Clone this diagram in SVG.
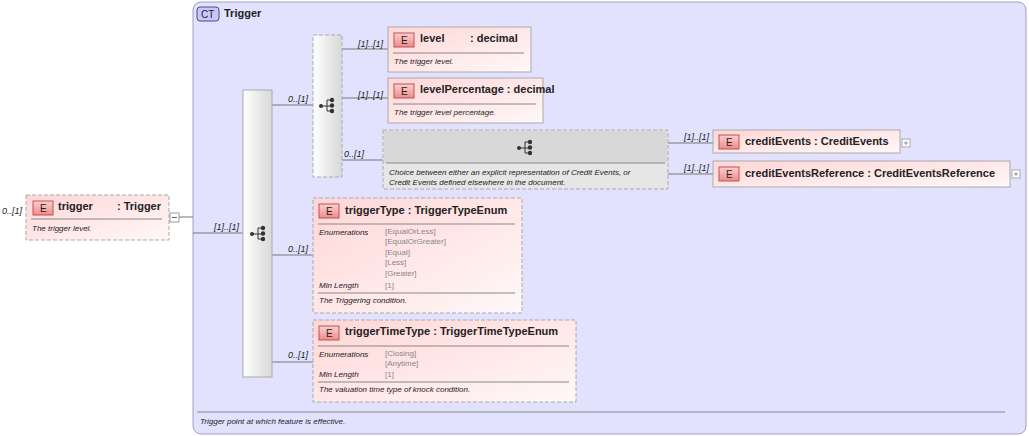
<svg xmlns="http://www.w3.org/2000/svg" width="1029" height="436" viewBox="0 0 1029 436">
<defs>
<linearGradient id="eg" x1="0" y1="0" x2="1" y2="1"><stop offset="0" stop-color="#ffd6d6"/><stop offset="1" stop-color="#fff8f8"/></linearGradient>
<linearGradient id="bg" x1="0" y1="0" x2="1" y2="0"><stop offset="0" stop-color="#ffffff"/><stop offset="1" stop-color="#d8d8d8"/></linearGradient>
<linearGradient id="badge" x1="0" y1="0" x2="0" y2="1"><stop offset="0" stop-color="#fbd0d0"/><stop offset="1" stop-color="#f08a8a"/></linearGradient>
<g id="ic"><circle cx="-6" cy="1" r="2"/><path d="M-6 1H0M0-5V6H4M0 1H4M0-5H4" stroke="#333" fill="none"/><circle cx="5" cy="-5" r="2.2"/><circle cx="5" cy="0.5" r="2.2"/><circle cx="5" cy="6" r="2.2"/></g>
</defs>
<style>
text{font-family:"Liberation Sans",Arial,sans-serif;fill:#222}
.t{font-size:11px;font-weight:bold}
.d{font-size:8px;font-style:italic}
.m{font-size:9px;font-style:italic}
.k{font-size:8px;font-style:italic}
.v{font-size:8px;fill:#888}
.b{font-size:10px}
.el{fill:url(#eg);stroke:#aaa}
.dash{stroke-dasharray:4 2}
.bd{fill:url(#badge);stroke:#b55}
.sep{stroke:#888;stroke-width:1}
.ln{stroke:#777;fill:none}
</style>
<g id="ct">
<rect x="193" y="2" width="833" height="432" rx="8" fill="#e2e2ff" stroke="#a0a0c0"/>
<rect x="197" y="7" width="22" height="14" rx="3" fill="#c8c8f8" stroke="#4a4a8a"/>
<text x="201" y="18" class="b" fill="#333">CT</text>
<text x="224" y="17" class="t">Trigger</text>
<line x1="197" y1="412" x2="1005" y2="412" class="sep"/>
<text x="200" y="424" class="d">Trigger point at which feature is effective.</text>
</g>
<g id="connectors" class="ln">
<line x1="179" y1="217" x2="193" y2="217"/>
<line x1="193" y1="233" x2="243" y2="233"/>
<line x1="272" y1="105" x2="313" y2="105"/>
<line x1="272" y1="255" x2="313" y2="255"/>
<line x1="272" y1="362" x2="313" y2="362"/>
<line x1="342" y1="49" x2="388" y2="49"/>
<line x1="342" y1="98" x2="388" y2="98"/>
<line x1="342" y1="160" x2="383" y2="160"/>
<line x1="668" y1="143" x2="713" y2="143"/>
<line x1="668" y1="174" x2="713" y2="174"/>
</g>
<g id="labels" class="m">
<text x="2" y="214" class="m">0..[1]</text>
<text x="214" y="230" class="m">[1]..[1]</text>
<text x="288" y="102" class="m">0..[1]</text>
<text x="288" y="252" class="m">0..[1]</text>
<text x="288" y="358" class="m">0..[1]</text>
<text x="358" y="47" class="m">[1]..[1]</text>
<text x="358" y="98" class="m">[1]..[1]</text>
<text x="344" y="157" class="m">0..[1]</text>
<text x="684" y="140" class="m">[1]..[1]</text>
<text x="684" y="171" class="m">[1]..[1]</text>
</g>
<g id="trigger">
<rect x="26" y="195" width="143" height="45" class="el dash"/>
<rect x="33" y="201" width="20" height="14" class="bd"/><text x="40" y="212" class="b">E</text>
<text x="58" y="210" class="t">trigger</text><text x="117" y="210" class="t">: Trigger</text>
<line x1="31" y1="219" x2="162" y2="219" class="sep"/>
<text x="32" y="231" class="d">The trigger level.</text>
<rect x="170" y="213" width="9" height="9" fill="#fff" stroke="#999"/><line x1="172" y1="217.5" x2="177" y2="217.5" stroke="#666"/>
</g>
<g id="seq">
<rect x="243" y="90" width="29" height="287" fill="url(#bg)" stroke="#aaa"/>
<use href="#ic" x="258" y="233" fill="#333"/>
</g>
<g id="choice">
<rect x="313" y="35" width="29" height="142" fill="url(#bg)" stroke="#aaa" class="dash"/>
<use href="#ic" x="327" y="105" fill="#333"/>
</g>
<g id="level">
<rect x="388" y="27" width="143" height="45" class="el"/>
<rect x="394" y="33" width="20" height="14" class="bd"/><text x="401" y="44" class="b">E</text>
<text x="420" y="42" class="t">level</text><text x="470" y="42" class="t">: decimal</text>
<line x1="393" y1="53" x2="524" y2="53" class="sep"/>
<text x="394" y="64" class="d">The trigger level.</text>
</g>
<g id="levelPercentage">
<rect x="388" y="78" width="155" height="45" class="el"/>
<rect x="394" y="84" width="20" height="14" class="bd"/><text x="401" y="95" class="b">E</text>
<text x="420" y="93" class="t">levelPercentage : decimal</text>
<line x1="393" y1="104" x2="536" y2="104" class="sep"/>
<text x="394" y="115" class="d">The trigger level percentage.</text>
</g>
<g id="innerChoice">
<rect x="383" y="130" width="285" height="59" fill="#e6e6e6" stroke="#aaa" class="dash"/>
<rect x="384" y="131" width="283" height="32" fill="#d8d8d8"/>
<use href="#ic" x="525" y="147" fill="#333"/>
<line x1="386" y1="163" x2="665" y2="163" class="sep"/>
<text x="389" y="175" class="d">Choice between either an explicit representation of Credit Events, or</text>
<text x="389" y="185" class="d">Credit Events defined elsewhere in the document.</text>
</g>
<g id="creditEvents">
<rect x="713" y="130" width="187" height="23" class="el"/>
<rect x="719" y="135" width="20" height="14" class="bd"/><text x="726" y="146" class="b">E</text>
<text x="745" y="145" class="t">creditEvents : CreditEvents</text>
<rect x="902" y="139" width="8" height="8" fill="#fff" stroke="#aaa"/><path d="M904 143h4M906 141v4" stroke="#999"/>
</g>
<g id="creditEventsReference">
<rect x="713" y="161" width="297" height="26" class="el"/>
<rect x="719" y="167" width="20" height="14" class="bd"/><text x="726" y="178" class="b">E</text>
<text x="745" y="177" class="t">creditEventsReference : CreditEventsReference</text>
<rect x="1012" y="170" width="8" height="8" fill="#fff" stroke="#aaa"/><path d="M1014 174h4M1016 172v4" stroke="#999"/>
</g>
<g id="triggerType">
<rect x="313" y="198" width="209" height="115" class="el dash"/>
<rect x="319" y="204" width="20" height="14" class="bd"/><text x="326" y="215" class="b">E</text>
<text x="345" y="214" class="t">triggerType : TriggerTypeEnum</text>
<line x1="318" y1="224" x2="515" y2="224" class="sep"/>
<text x="319" y="235" class="k">Enumerations</text>
<text x="385" y="234" class="v">[EqualOrLess]</text>
<text x="385" y="244" class="v">[EqualOrGreater]</text>
<text x="385" y="255" class="v">[Equal]</text>
<text x="385" y="265" class="v">[Less]</text>
<text x="385" y="276" class="v">[Greater]</text>
<text x="319" y="288" class="k">Min Length</text>
<text x="385" y="288" class="v">[1]</text>
<line x1="318" y1="293" x2="515" y2="293" class="sep"/>
<text x="319" y="303" class="d">The Triggering condition.</text>
</g>
<g id="triggerTimeType">
<rect x="313" y="320" width="263" height="82" class="el dash"/>
<rect x="319" y="326" width="20" height="14" class="bd"/><text x="326" y="337" class="b">E</text>
<text x="345" y="335" class="t">triggerTimeType : TriggerTimeTypeEnum</text>
<line x1="318" y1="346" x2="569" y2="346" class="sep"/>
<text x="319" y="357" class="k">Enumerations</text>
<text x="385" y="356" class="v">[Closing]</text>
<text x="385" y="366" class="v">[Anytime]</text>
<text x="319" y="377" class="k">Min Length</text>
<text x="385" y="377" class="v">[1]</text>
<line x1="318" y1="382" x2="569" y2="382" class="sep"/>
<text x="319" y="392" class="d">The valuation time type of knock condition.</text>
</g>
</svg>
